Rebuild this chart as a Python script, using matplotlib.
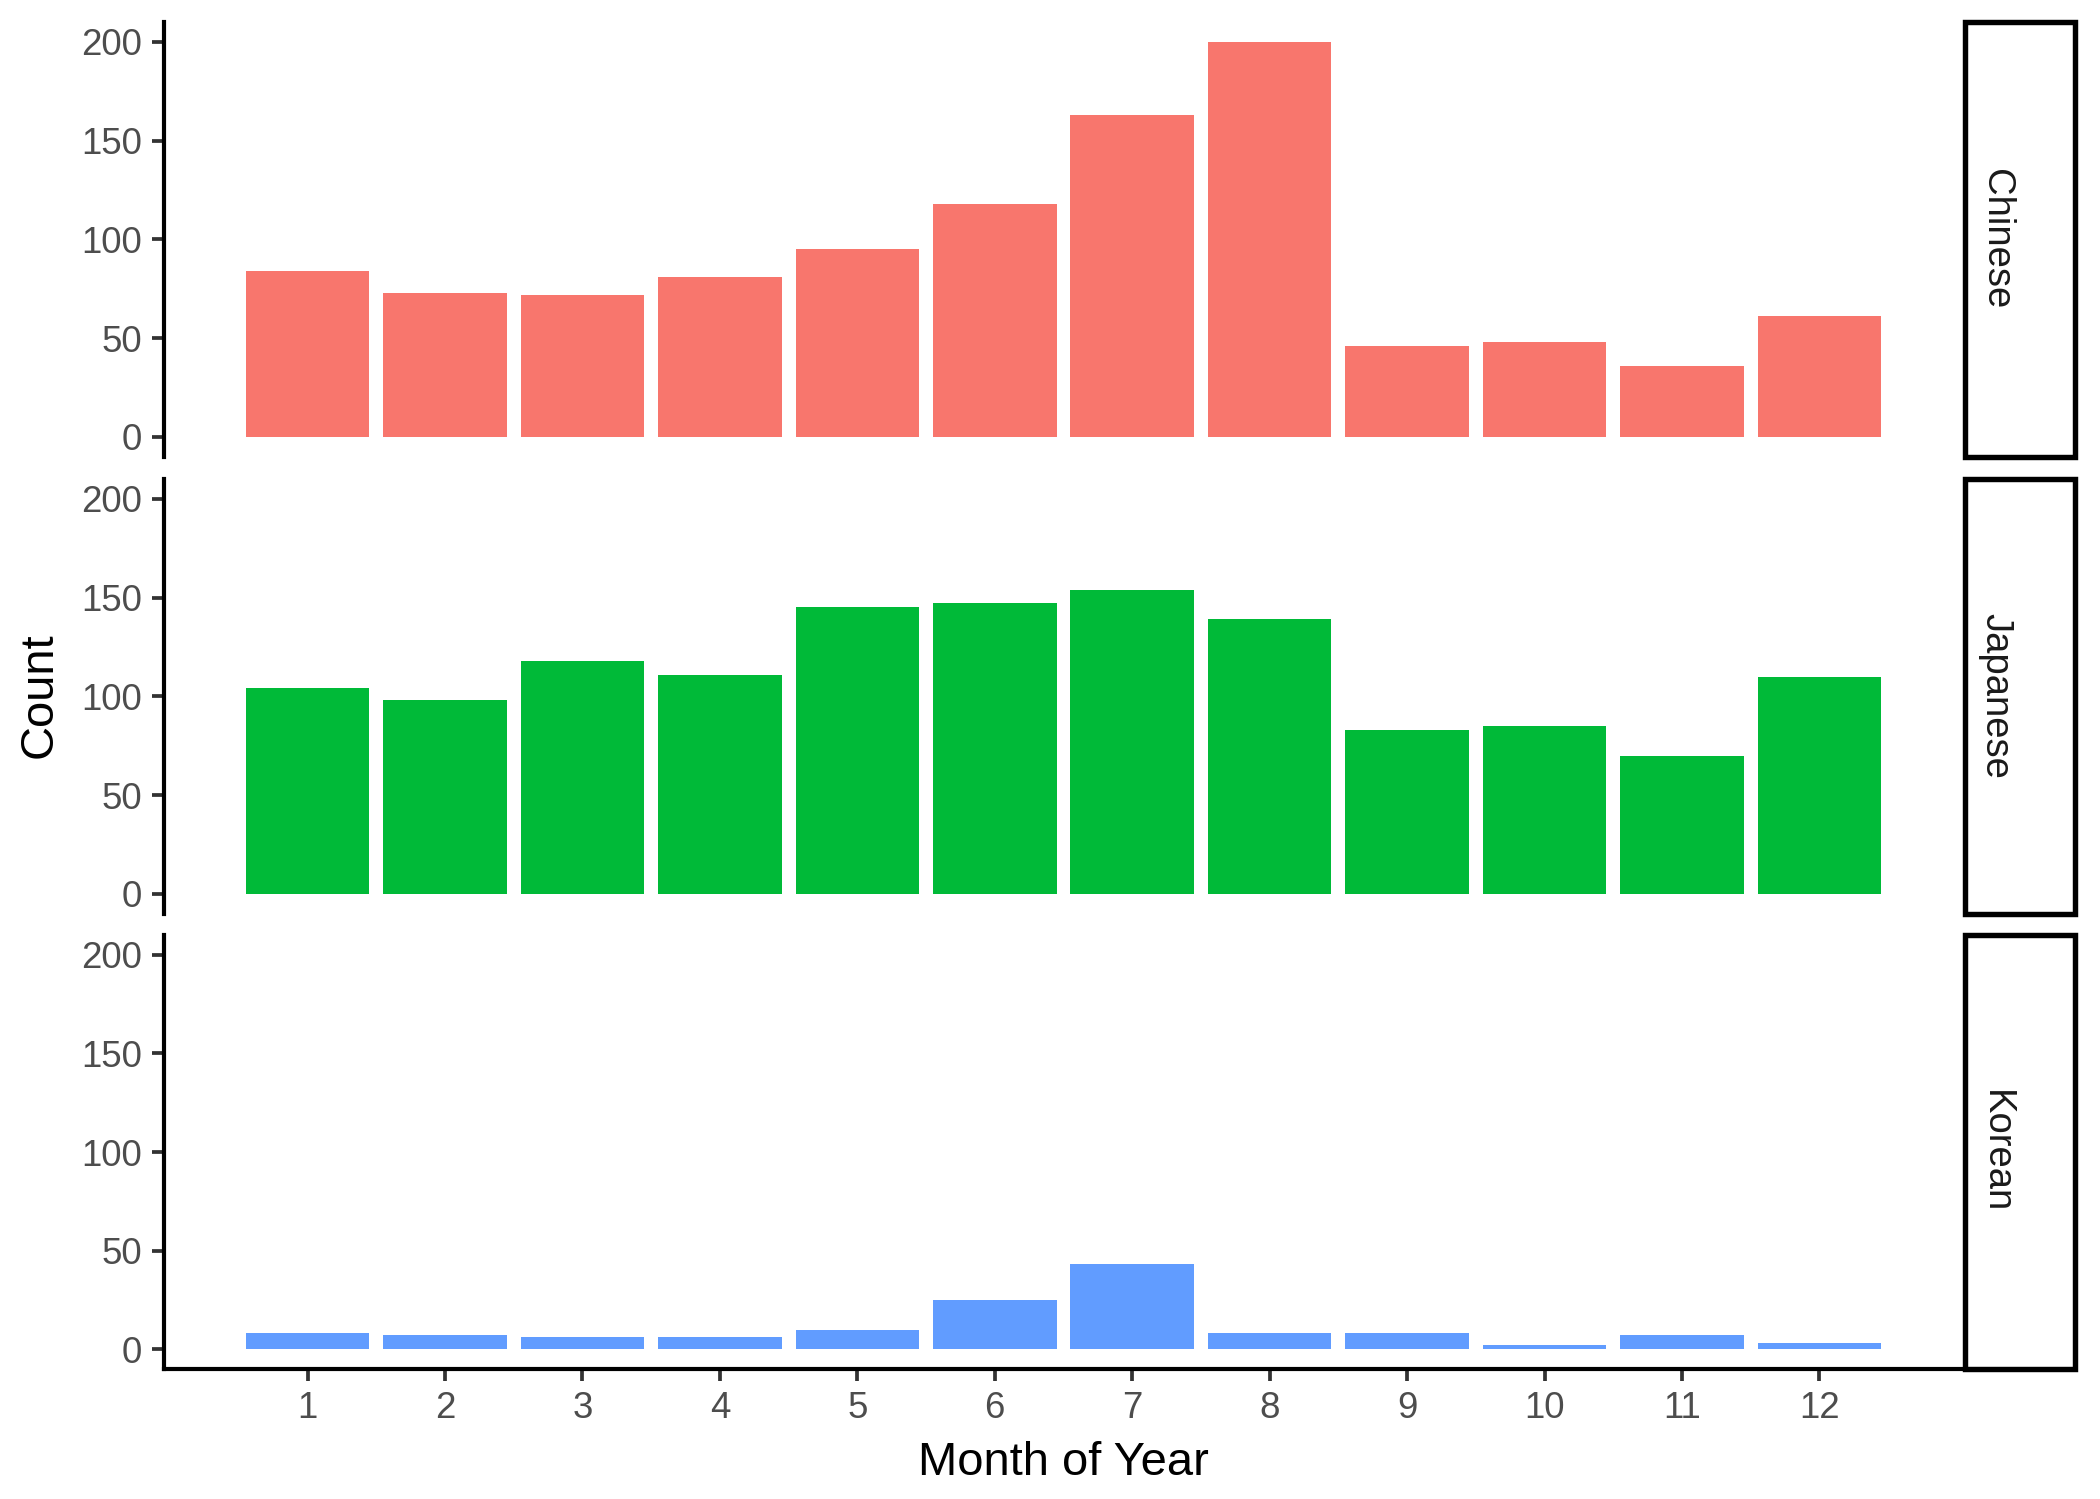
import matplotlib.pyplot as plt
from matplotlib.patches import Rectangle

plt.rcParams['font.family'] = ['Liberation Sans', 'DejaVu Sans']

# data
months = list(range(1, 13))
languages = ["Chinese", "Japanese", "Korean"]
chinese = [84, 73, 72, 81, 95, 118, 163, 200, 46, 48, 36, 61]
japanese = [104, 98, 118, 111, 145, 147, 154, 139, 83, 85, 70, 110]
korean = [8, 7, 6, 6, 10, 25, 43, 8, 8, 2, 7, 3]
counts = [chinese, japanese, korean]
colors = ["#F8766D", "#00BA38", "#619CFF"]
y_ticks = [0, 50, 100, 150, 200]

W, H = 2100, 1499
fig = plt.figure(figsize=(7, H / 300), dpi=300)

# panel boxes in pixels: (top, bottom)
panels = [(22, 456.5), (479, 913.5), (935, 1369)]
left_px, right_px = 164, 1963
strip_l, strip_r = 1965, 2075

tick_col = "#333333"
lab_col = "#4D4D4D"

for i, (lang, vals, col) in enumerate(zip(languages, counts, colors)):
    top, bot = panels[i]
    ax = fig.add_axes([left_px / W, 1 - bot / H, (right_px - left_px) / W, (bot - top) / H])
    ax.bar(months, vals, width=0.9, color=col)
    ax.set_xlim(-0.045, 13.045)
    ax.set_ylim(-10, 210)
    ax.set_yticks(y_ticks)
    for s in ["top", "right"]:
        ax.spines[s].set_visible(False)
    ax.spines["left"].set_linewidth(1.0)
    ax.spines["bottom"].set_linewidth(1.0)
    ax.tick_params(axis="y", colors=tick_col, labelcolor=lab_col, labelsize=8.8,
                   length=2.8, width=0.9, pad=2.4)
    if i < 2:
        ax.spines["bottom"].set_visible(False)
        ax.set_xticks([])
    else:
        ax.set_xticks(months)
        ax.tick_params(axis="x", colors=tick_col, labelcolor=lab_col, labelsize=8.8,
                       length=2.8, width=0.9, pad=2.6)
        ax.set_xlabel("Month of Year", fontsize=11.3, labelpad=3.5)

    # facet strip on the right
    sax = fig.add_axes([strip_l / W, 1 - bot / H, (strip_r - strip_l) / W, (bot - top) / H])
    sax.set_axis_off()
    sax.add_patch(Rectangle((0, 0), 1, 1, transform=sax.transAxes, fill=False,
                            edgecolor="black", linewidth=1.3, clip_on=False))
    sax.text(0.28, 0.5, lang, rotation=270, ha="center", va="center",
             fontsize=9.2, color="#1A1A1A", transform=sax.transAxes)

fig.text(40 / W, 1 - ((22 + 1369) / 2) / H, "Count", rotation=90,
         ha="center", va="center", fontsize=11.3)

fig.savefig("out.png", dpi=300)
